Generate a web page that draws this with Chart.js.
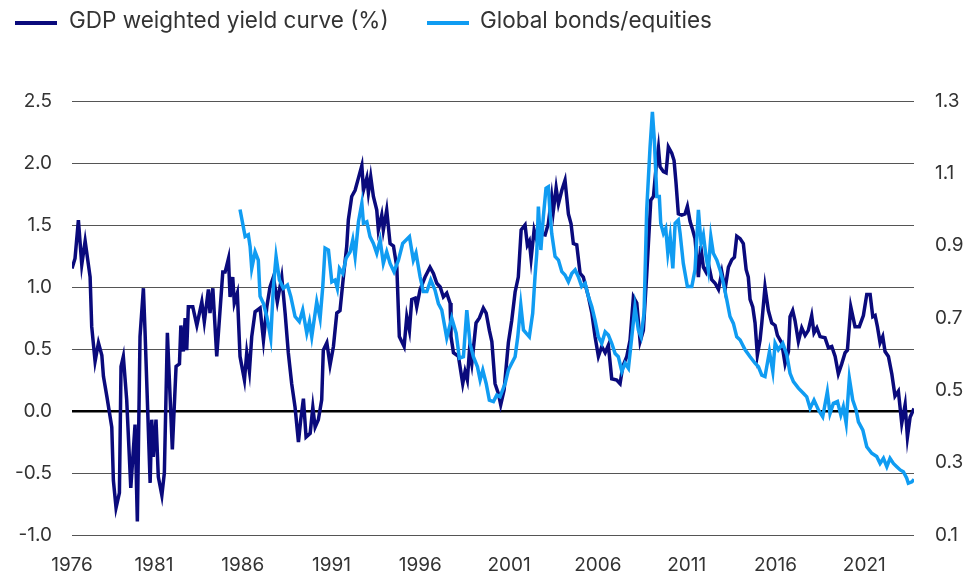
<!DOCTYPE html>
<html>
<head>
<meta charset="utf-8">
<script src="https://cdn.jsdelivr.net/npm/chart.js@4.4.0/dist/chart.umd.min.js"></script>
<style>
  html, body { margin: 0; padding: 0; background: #fff; }
  #wrap { position: relative; width: 977px; height: 571px; font-family: Inter, "Noto Sans", sans-serif; color: #333; }
  #chart { position: absolute; left: 0; top: 0; }
  .lg-line { position: absolute; height: 4px; width: 42px; top: 21px; }
  .lg-text { position: absolute; top: 5px; font-size: 22.5px; line-height: 30px; white-space: nowrap; color: #333; }
</style>
</head>
<body>
<div id="wrap">
  <canvas id="chart" width="977" height="571"></canvas>
  <div class="lg-line" id="lg1" style="left:15px;"></div>
  <div class="lg-text" id="lt1" style="left:69px;"></div>
  <div class="lg-line" id="lg2" style="left:427px;"></div>
  <div class="lg-text" id="lt2" style="left:480px;"></div>
</div>
<script>
// ---- data ----
const seriesNames = ['GDP weighted yield curve (%)', 'Global bonds/equities'];
const seriesColors = ['#0a0a7c', '#109cf2'];

const tickYears = [1976, 1981, 1986, 1991, 1996, 2001, 2006, 2011, 2016, 2021];
const tickLabels = ['1976', '1981', '1986', '1991', '1996', '2001', '2006', '2011', '2016', '2021'];
const leftTicks = [-1.0, -0.5, 0.0, 0.5, 1.0, 1.5, 2.0, 2.5];
const rightTicks = [0.1, 0.3, 0.5, 0.7, 0.9, 1.1, 1.3];

const gdpYears = [
1976.39,1976.56,1976.75,1976.94,1977.13,1977.41,1977.50,1977.69,1977.88,1978.07,1978.16,1978.35,1978.63,1978.72,1978.87,
1979.06,1979.15,1979.28,1979.47,1979.70,1979.94,1980.07,1980.22,1980.41,1980.50,1980.79,1980.88,1980.97,1981.12,1981.25,
1981.45,1981.59,1981.76,1982.04,1982.25,1982.44,1982.52,1982.66,1982.76,1982.85,1982.94,1983.19,1983.42,1983.70,1983.84,
1984.07,1984.16,1984.32,1984.54,1984.88,1985.01,1985.20,1985.29,1985.44,1985.53,1985.70,1985.85,1986.10,1986.23,1986.38,
1986.51,1986.70,1986.98,1987.17,1987.36,1987.54,1987.73,1987.95,1988.20,1988.39,1988.57,1988.76,1988.95,1989.14,1989.27,
1989.42,1989.57,1989.80,1989.95,1990.08,1990.26,1990.45,1990.54,1990.74,1990.92,1991.11,1991.30,1991.48,1991.67,1991.86,
1991.95,1992.14,1992.33,1992.52,1992.71,1992.80,1992.99,1993.08,1993.21,1993.36,1993.55,1993.64,1993.83,1993.92,1994.11,
1994.30,1994.49,1994.68,1994.82,1995.09,1995.24,1995.39,1995.52,1995.71,1995.80,1995.99,1996.27,1996.55,1996.74,1996.93,
1997.12,1997.30,1997.49,1997.68,1997.73,1997.87,1998.15,1998.39,1998.52,1998.65,1998.77,1998.90,1999.14,1999.33,1999.55,
1999.71,1999.89,2000.03,2000.21,2000.40,2000.53,2000.72,2000.96,2001.15,2001.34,2001.52,2001.68,2001.90,2002.03,2002.14,
2002.24,2002.41,2002.56,2002.75,2003.03,2003.21,2003.40,2003.49,2003.65,2003.78,2003.97,2004.15,2004.34,2004.49,2004.62,
2004.81,2005.00,2005.18,2005.47,2005.66,2005.84,2006.03,2006.22,2006.41,2006.59,2006.78,2007.06,2007.25,2007.40,2007.63,
2007.81,2008.00,2008.19,2008.38,2008.56,2008.75,2008.98,2009.13,2009.28,2009.41,2009.50,2009.69,2009.84,2009.97,2010.16,
2010.29,2010.40,2010.53,2010.72,2010.91,2011.04,2011.19,2011.34,2011.47,2011.66,2011.79,2011.94,2012.09,2012.22,2012.41,
2012.60,2012.79,2012.98,2013.16,2013.35,2013.54,2013.69,2013.82,2014.01,2014.19,2014.35,2014.47,2014.57,2014.72,2014.85,
2014.98,2015.13,2015.23,2015.41,2015.60,2015.79,2015.98,2016.11,2016.35,2016.54,2016.73,2016.82,2016.97,2017.10,2017.29,
2017.48,2017.67,2017.85,2018.04,2018.17,2018.33,2018.51,2018.79,2018.98,2019.17,2019.36,2019.54,2019.73,2019.92,2020.05,
2020.24,2020.48,2020.72,2020.95,2021.14,2021.33,2021.48,2021.61,2021.74,2021.89,2022.04,2022.17,2022.36,2022.55,2022.73,
2022.92,2023.11,2023.30,2023.43,2023.58,2023.80
];
const gdpValues = [
1.15,1.23,1.54,1.18,1.37,1.08,0.68,0.40,0.55,0.45,0.28,0.12,-0.13,-0.56,-0.78,
-0.66,0.36,0.44,0.09,-0.62,-0.11,-0.89,0.60,0.99,0.65,-0.58,-0.07,-0.37,-0.07,-0.53,
-0.68,-0.50,0.63,-0.31,0.36,0.38,0.69,0.48,0.75,0.49,0.84,0.84,0.69,0.88,0.72,
0.98,0.79,0.99,0.44,1.12,1.12,1.23,0.92,1.08,0.87,0.95,0.44,0.25,0.47,0.32,
0.60,0.80,0.83,0.57,0.84,1.00,1.08,0.88,1.08,0.79,0.47,0.22,0.03,-0.25,-0.07,
0.10,-0.21,-0.18,0.03,-0.13,-0.07,0.09,0.49,0.55,0.37,0.52,0.79,0.81,1.08,1.33,
1.54,1.73,1.78,1.88,1.98,1.78,1.88,1.76,1.89,1.73,1.62,1.46,1.58,1.46,1.62,
1.35,1.33,1.16,0.60,0.52,0.76,0.65,0.90,0.91,0.84,0.98,1.08,1.16,1.11,1.03,
1.00,0.92,0.95,0.87,0.60,0.47,0.44,0.22,0.32,0.25,0.49,0.38,0.71,0.75,0.83,
0.79,0.65,0.56,0.22,0.14,0.05,0.17,0.55,0.73,0.96,1.08,1.46,1.50,1.34,1.37,
1.23,1.46,1.38,1.43,1.42,1.51,1.73,1.61,1.80,1.67,1.78,1.86,1.59,1.51,1.35,
1.34,1.11,1.08,0.92,0.79,0.60,0.44,0.52,0.47,0.53,0.26,0.25,0.22,0.36,0.44,
0.57,0.92,0.87,0.56,0.65,1.10,1.70,1.73,1.97,2.12,1.97,1.93,1.92,2.13,2.08,
2.02,1.84,1.59,1.58,1.59,1.65,1.53,1.46,1.39,1.08,1.33,1.16,1.12,1.19,1.06,
1.03,0.98,1.12,0.98,1.16,1.22,1.24,1.41,1.39,1.35,1.14,1.08,0.90,0.84,0.71,
0.45,0.57,0.71,1.00,0.81,0.71,0.69,0.61,0.55,0.38,0.48,0.76,0.81,0.73,0.56,
0.67,0.61,0.65,0.77,0.63,0.67,0.60,0.59,0.51,0.52,0.44,0.30,0.38,0.47,0.49,
0.84,0.68,0.68,0.77,0.94,0.94,0.76,0.77,0.68,0.55,0.60,0.48,0.44,0.30,0.12,
0.16,-0.10,0.05,-0.21,-0.05,0.02
];

const bondYears = [
1985.85,1986.14,1986.32,1986.42,1986.51,1986.70,1986.88,1986.98,1987.17,1987.36,1987.58,1987.73,1987.88,1988.07,1988.29,
1988.52,1988.71,1988.95,1989.19,1989.38,1989.61,1989.76,1989.89,1990.17,1990.36,1990.51,1990.64,1990.83,1991.02,1991.20,
1991.33,1991.45,1991.64,1991.82,1992.05,1992.20,1992.33,1992.52,1992.71,1992.80,1992.99,1993.17,1993.36,1993.55,1993.74,
1993.92,1994.11,1994.30,1994.52,1994.77,1995.01,1995.39,1995.61,1995.76,1995.99,1996.17,1996.37,1996.59,1996.83,1997.02,
1997.21,1997.49,1997.77,1998.02,1998.20,1998.43,1998.62,1998.80,1998.99,1999.22,1999.37,1999.52,1999.71,1999.89,2000.12,
2000.31,2000.49,2000.78,2000.96,2001.15,2001.34,2001.49,2001.66,2001.81,2001.96,2002.14,2002.33,2002.46,2002.56,2002.65,
2002.79,2002.93,2003.08,2003.21,2003.31,2003.40,2003.59,2003.78,2003.97,2004.15,2004.34,2004.53,2004.72,2004.90,2005.09,
2005.28,2005.47,2005.66,2005.84,2006.03,2006.22,2006.41,2006.59,2006.78,2006.97,2007.15,2007.35,2007.53,2007.72,2007.91,
2008.09,2008.28,2008.43,2008.60,2008.75,2008.94,2009.07,2009.18,2009.32,2009.46,2009.54,2009.69,2009.82,2009.94,2010.07,
2010.22,2010.35,2010.53,2010.63,2010.81,2011.04,2011.29,2011.47,2011.66,2011.81,2011.94,2012.09,2012.22,2012.36,2012.50,
2012.70,2012.88,2013.07,2013.26,2013.44,2013.63,2013.82,2014.01,2014.29,2014.57,2014.85,2015.04,2015.23,2015.41,2015.66,
2015.85,2015.98,2016.16,2016.41,2016.64,2016.82,2017.01,2017.29,2017.57,2017.76,2017.95,2018.17,2018.42,2018.66,2018.92,
2019.07,2019.26,2019.49,2019.68,2019.82,2019.98,2020.16,2020.35,2020.54,2020.67,2020.92,2021.14,2021.42,2021.70,2021.89,
2022.08,2022.27,2022.45,2022.64,2022.83,2023.02,2023.20,2023.39,2023.48,2023.68,2023.80
];
const bondValues = [
1.000,0.925,0.930,0.897,0.837,0.883,0.860,0.760,0.740,0.704,0.644,0.787,0.870,0.805,0.782,
0.791,0.759,0.704,0.690,0.722,0.658,0.690,0.648,0.745,0.699,0.787,0.893,0.888,0.800,0.805,
0.782,0.837,0.823,0.865,0.883,0.916,0.870,0.966,1.017,0.962,0.966,0.925,0.906,0.879,0.916,
0.851,0.883,0.851,0.828,0.860,0.906,0.925,0.860,0.880,0.814,0.773,0.773,0.805,0.777,0.740,
0.722,0.645,0.700,0.658,0.589,0.593,0.722,0.630,0.593,0.565,0.529,0.556,0.519,0.473,0.469,
0.487,0.482,0.519,0.556,0.575,0.593,0.648,0.736,0.667,0.658,0.648,0.713,0.814,0.879,1.008,
0.888,0.980,1.059,1.063,0.990,0.934,0.870,0.860,0.828,0.819,0.800,0.823,0.833,0.814,0.787,
0.796,0.759,0.731,0.694,0.648,0.630,0.662,0.653,0.630,0.602,0.593,0.552,0.575,0.561,0.648,
0.731,0.667,0.648,0.713,1.000,1.174,1.270,1.192,1.036,1.036,0.962,0.934,0.948,0.879,0.925,
0.837,0.962,0.971,0.934,0.851,0.787,0.787,0.833,0.999,0.906,0.930,0.870,0.833,0.925,0.879,
0.860,0.833,0.796,0.750,0.704,0.685,0.648,0.639,0.612,0.593,0.575,0.565,0.542,0.538,0.607,
0.552,0.630,0.612,0.630,0.598,0.547,0.524,0.506,0.492,0.482,0.450,0.473,0.446,0.427,0.496,
0.436,0.464,0.469,0.432,0.455,0.409,0.533,0.473,0.446,0.413,0.390,0.344,0.326,0.317,0.298,
0.312,0.289,0.312,0.298,0.289,0.280,0.275,0.257,0.243,0.247,0.254
];

// ---- legend (HTML text) ----
document.getElementById('lg1').style.background = seriesColors[0];
document.getElementById('lg2').style.background = seriesColors[1];
document.getElementById('lt1').textContent = seriesNames[0];
document.getElementById('lt2').textContent = seriesNames[1];

const toPoints = (xs, ys) => xs.map((x, i) => ({ x: x, y: ys[i] }));
const FONT = 'Inter, "Noto Sans", sans-serif';

new Chart(document.getElementById('chart'), {
  type: 'line',
  data: {
    datasets: [
      {
        label: seriesNames[0],
        data: toPoints(gdpYears, gdpValues),
        yAxisID: 'y',
        borderColor: seriesColors[0],
        borderWidth: 3.5,
        pointRadius: 0,
        tension: 0,
        order: 2
      },
      {
        label: seriesNames[1],
        data: toPoints(bondYears, bondValues),
        yAxisID: 'y1',
        borderColor: seriesColors[1],
        borderWidth: 3.5,
        pointRadius: 0,
        tension: 0,
        order: 1
      }
    ]
  },
  options: {
    responsive: false,
    animation: false,
    layout: { padding: { top: 101, left: 0, right: 0, bottom: 0 } },
    plugins: { legend: { display: false }, tooltip: { enabled: false } },
    scales: {
      x: {
        type: 'linear',
        min: 1976.39,
        max: 2023.80,
        grid: { display: false },
        border: { display: false },
        afterBuildTicks: (s) => { s.ticks = tickYears.map(v => ({ value: Math.max(v, s.min) })); },
        afterFit: (s) => { s.height = 36; },
        ticks: {
          autoSkip: false,
          maxRotation: 0,
          padding: 11,
          color: '#333',
          font: { family: FONT, size: 19 },
          callback: (v, i) => tickLabels[i]
        }
      },
      y: {
        position: 'left',
        min: -1.0,
        max: 2.5,
        afterBuildTicks: (s) => { s.ticks = leftTicks.map(v => ({ value: v })); },
        afterFit: (s) => { s.width = 72; },
        border: { display: false },
        grid: {
          drawTicks: false,
          color: (c) => (c.tick && Math.abs(c.tick.value) < 1e-9) ? '#000' : '#555',
          lineWidth: (c) => (c.tick && Math.abs(c.tick.value) < 1e-9) ? 2.5 : 1
        },
        ticks: {
          padding: 20,
          color: '#333',
          font: { family: FONT, size: 19 },
          callback: (v) => Number(v).toFixed(1)
        }
      },
      y1: {
        position: 'right',
        min: 0.1,
        max: 1.3,
        afterBuildTicks: (s) => { s.ticks = rightTicks.map(v => ({ value: v })); },
        afterFit: (s) => { s.width = 63; },
        border: { display: false },
        grid: { display: false, drawOnChartArea: false, drawTicks: false },
        ticks: {
          padding: 21,
          color: '#333',
          font: { family: FONT, size: 19 },
          callback: (v) => Number(v).toFixed(1)
        }
      }
    }
  }
});
</script>
</body>
</html>
